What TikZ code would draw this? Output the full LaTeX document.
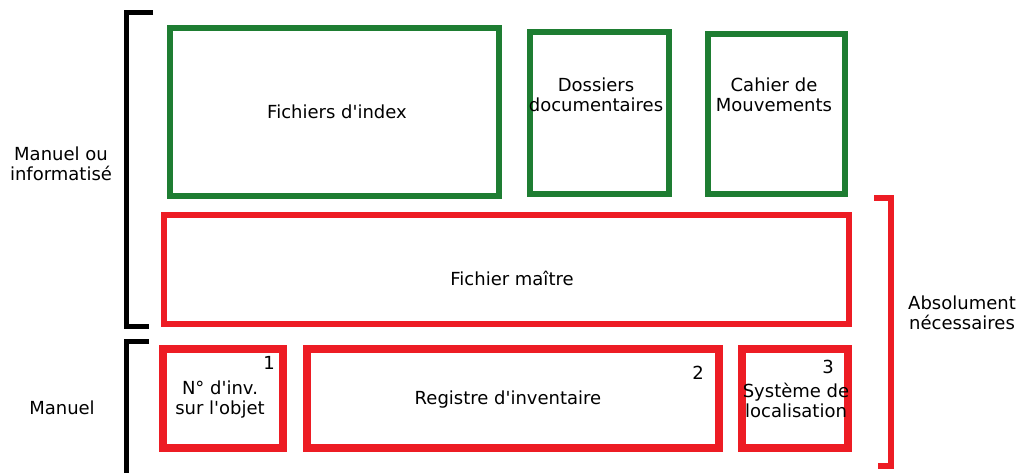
\documentclass[tikz,border=0pt]{standalone}
\usepackage{fontspec}
\setmainfont{DejaVu Sans}
\definecolor{boxgreen}{RGB}{30,125,50}
\definecolor{boxred}{RGB}{237,28,36}
\newcommand{\apos}{\textquotesingle}
\begin{document}
\begin{tikzpicture}[x=1pt,y=-1pt,
  txt/.style={font=\fontsize{18}{20}\selectfont, align=center, inner sep=0pt},
  gbox/.style={draw=boxgreen, line width=6pt, inner sep=0pt},
  rbox/.style={draw=boxred, line width=6pt, inner sep=0pt},
  rboxb/.style={draw=boxred, line width=8pt, inner sep=0pt},
  bbrack/.style={draw=black, line width=5pt, miter limit=10},
  rbrack/.style={draw=boxred, line width=6pt, miter limit=10}]
\useasboundingbox (0,0) rectangle (1022,472);
% boxes
\node[gbox, minimum width=329pt, minimum height=168pt] (idx) at (334.5,112) {};
\node[gbox, minimum width=139pt, minimum height=162pt] (dos) at (599.5,113) {};
\node[gbox, minimum width=137pt, minimum height=160pt] (cah) at (776.5,114) {};
\node[rbox, minimum width=685pt, minimum height=109pt] (maitre) at (506.5,269.5) {};
\node[rboxb, minimum width=120pt, minimum height=99pt] (num) at (223,398.5) {};
\node[rboxb, minimum width=412pt, minimum height=99pt] (reg) at (513,398.5) {};
\node[rboxb, minimum width=106pt, minimum height=99pt] (sys) at (795,398.5) {};
% labels
\node[txt] (tidx) at (337,112) {Fichiers d\apos index};
\node[txt] (tdos) at (596,95) {Dossiers\\documentaires};
\node[txt] (tcah) at (774,95) {Cahier de\\Mouvements};
\node[txt] (tmaitre) at (512,278) {Fichier maître};
\node[txt] (tnum) at (220,400) {N° d\apos inv.\\sur l\apos objet};
\node[txt] (treg) at (508,400) {Registre d\apos inventaire};
\node[txt] (tsys) at (796,400) {Système de\\localisation};
\node[txt] (n1) at (269,363) {1};
\node[txt] (n2) at (698,373) {2};
\node[txt] (n3) at (828,367) {3};
\node[txt] (mi) at (61,164) {Manuel ou\\informatisé};
\node[txt] (man) at (62,408) {Manuel};
\node[txt] (abs) at (962,313) {Absolument\\nécessaires};
% brackets
\draw[bbrack] (153,12) -- (126,12) -- (126,326) -- (149,326);
\draw[bbrack] (149,341) -- (126,341) -- (126,474);
\draw[rbrack] (874,198) -- (891,198) -- (891,466) -- (878,466);
\end{tikzpicture}
\end{document}
